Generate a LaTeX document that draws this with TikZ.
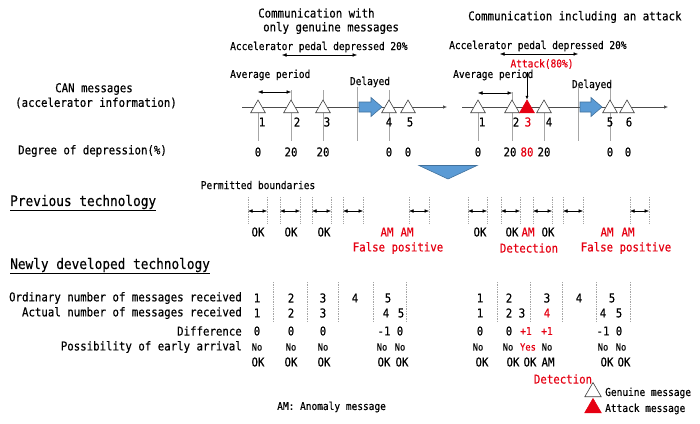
\documentclass[tikz,border=0pt]{standalone}
\usepackage{fontspec}
\setmainfont[FakeStretch=0.88,FakeBold=0.35]{DejaVu Sans Mono}
\usetikzlibrary{shapes.geometric,arrows.meta}
\definecolor{atk}{HTML}{E60012}
\definecolor{blu}{HTML}{5B9BD5}
\definecolor{bluD}{HTML}{41719C}
\definecolor{tick}{HTML}{A6A6A6}
\tikzset{
  tx/.style={inner sep=0pt, font=\fontsize{12.2}{13}\selectfont},
  sm/.style={inner sep=0pt, font=\fontsize{10.8}{12}\selectfont},
  nn/.style={inner sep=0pt, font=\fontsize{10}{11}\selectfont},
  ttl/.style={inner sep=0pt, anchor=west, font=\fontsize{14.5}{16}\selectfont},
  rd/.style={text=atk},
  gen/.style={regular polygon, regular polygon sides=3, minimum size=17pt, inner sep=0pt, draw=black!75, fill=white, line width=0.6pt},
  att/.style={gen, fill=atk, draw=atk},
  tk/.style={draw=tick, line width=0.8pt},
  dt/.style={draw=tick, densely dotted, line width=0.7pt},
  dar/.style={{Latex[length=4.5pt,width=3.6pt]}-{Latex[length=4.5pt,width=3.6pt]}, line width=0.5pt},
  axis/.style={-{Latex[length=4pt,width=3.4pt]}, draw=black!70, line width=0.6pt},
  blk/.style={fill=blu, draw=bluD, line width=0.6pt},
}
\begin{document}
\begin{tikzpicture}[x=1pt,y=-1pt]
\useasboundingbox (0,0) rectangle (700,423);
\fill[white] (0,0) rectangle (700,423);

% ---------- headers ----------
\node[tx, anchor=west] (h1a) at (258,13) {Communication with};
\node[tx, anchor=west] (h1b) at (263,28) {only genuine messages};
\node[sm, anchor=west] (acc1) at (230,47) {Accelerator pedal depressed 20\%};
\coordinate (a1l) at (282,55); \coordinate (a1r) at (357,55);
\draw[dar] (a1l) -- (a1r);
\node[tx, anchor=west] (h2) at (468,17) {Communication including an attack};
\node[sm, anchor=west] (acc2) at (449,46) {Accelerator pedal depressed 20\%};
\coordinate (a2l) at (500,54); \coordinate (a2r) at (578,54);
\draw[dar] (a2l) -- (a2r);
\node[sm, rd] (atxt) at (542,64) {Attack(80\%)};

\node[tx] (can1) at (94,89) {CAN messages};
\node[tx] (can2) at (96,103) {(accelerator information)};
\node[tx, anchor=west] (deg) at (18,151) {Degree of depression(\%)};

% ---------- left timeline ----------
\coordinate (L0) at (242,107); \coordinate (L1) at (447,107);
\draw[tk] (258,113) -- (258,141);
\draw[tk] (291,90) -- (291,141);
\draw[tk] (323,90) -- (323,141);
\draw[tk] (357,87) -- (357,141);
\draw[tk] (389,90) -- (389,141);
\draw[axis] (L0) -- (L1);
\node[sm, anchor=west] (avgL) at (230,75) {Average period};
\draw[dar] (258,92) -- (291,92);
\node[sm] (delL) at (370,82) {Delayed};
\draw[blk] (359,102) -- (371,102) -- (371,97.5) -- (382,107) -- (371,116.5) -- (371,112) -- (359,112) -- cycle;
\node[gen] (l1) at (258,108.5) {};
\node[gen] (l2) at (291,108.5) {};
\node[gen] (l3) at (323,108.5) {};
\node[gen] (l4) at (389,108.5) {};
\node[gen] (l5) at (408,108.5) {};
\node[tx] (ln1) at (262,122) {1};
\node[tx] (ln2) at (297,122) {2};
\node[tx] (ln3) at (327,122) {3};
\node[tx] (ln4) at (389,122) {4};
\node[tx] (ln5) at (410,122) {5};
\node[tx] (ld1) at (258,152) {0};
\node[tx] (ld2) at (291,152) {20};
\node[tx] (ld3) at (323,152) {20};
\node[tx] (ld4) at (389,152) {0};
\node[tx] (ld5) at (408,152) {0};

% ---------- right timeline ----------
\coordinate (R0) at (462,107); \coordinate (R1) at (668,107);
\draw[tk] (478,113) -- (478,141);
\draw[tk] (512,92) -- (512,141);
\draw[tk] (544,113) -- (544,141);
\draw[tk] (578,87) -- (578,141);
\draw[tk] (610,88) -- (610,141);
\draw[axis] (R0) -- (R1);
\node[sm, anchor=west] (avgR) at (453,75) {Average period};
\draw[dar] (478,93) -- (512,93);
\node[sm] (delR) at (592,85) {Delayed};
\draw[blk] (580,102) -- (591,102) -- (591,97.5) -- (602,107) -- (591,116.5) -- (591,112) -- (580,112) -- cycle;
\node[gen] (r1) at (478,108.5) {};
\node[gen] (r2) at (512,108.5) {};
\node[att] (r3) at (527,108.5) {};
\node[gen] (r4) at (544,108.5) {};
\node[gen] (r5) at (610,108.5) {};
\node[gen] (r6) at (627,108.5) {};
\draw[-{Latex[length=3.5pt,width=3pt]}, line width=0.5pt] (atxt.south -| r3.north) ++(0,3) -- (r3.north);
\node[tx] (rn1) at (482,122) {1};
\node[tx] (rn2) at (516,122) {2};
\node[tx, rd] (rn3) at (528,122) {3};
\node[tx] (rn4) at (549,122) {4};
\node[tx] (rn5) at (610,122) {5};
\node[tx] (rn6) at (629,122) {6};
\node[tx] (rd1) at (478,152) {0};
\node[tx] (rd2) at (510,152) {20};
\node[tx, rd] (rd3) at (527,152) {80};
\node[tx] (rd4) at (544,152) {20};
\node[tx] (rd5) at (610,152) {0};
\node[tx] (rd6) at (628,152) {0};

% ---------- wedge ----------
\draw[blk] (419,165.5) -- (477,165.5) -- (448,179) -- cycle;

% ---------- previous technology ----------
\node[ttl] (prev) at (10,203) {\underline{Previous technology}};
\node[sm] (perm) at (258,185) {Permitted boundaries};
\foreach \a/\b in {248/267,280/300,312/331,343/363,409/429,468/487,501/520,533/552,563/583,630/649}{
  \draw[dt] (\a,197) -- (\a,223);
  \draw[dt] (\b,197) -- (\b,223);
  \draw[dar] (\a,211) -- (\b,211);
}
\node[tx] (p1) at (258,232) {OK};
\node[tx] (p2) at (291,232) {OK};
\node[tx] (p3) at (324,232) {OK};
\node[tx, rd] (p4) at (387,232) {AM};
\node[tx, rd] (p5) at (407,232) {AM};
\node[tx, rd] (fp1) at (398,248) {False positive};
\node[tx] (q1) at (480,232) {OK};
\node[tx] (q2) at (512,232) {OK};
\node[tx, rd] (q3) at (528,232) {AM};
\node[tx] (q4) at (548,232) {OK};
\node[tx, rd] (q5) at (607,232) {AM};
\node[tx, rd] (q6) at (628,232) {AM};
\node[tx, rd] (det1) at (529,248) {Detection};
\node[tx, rd] (fp2) at (626,248) {False positive};

% ---------- newly developed technology ----------
\node[ttl] (newt) at (10,266) {\underline{Newly developed technology}};
\foreach \x in {273,307,338,373,406,497,530,562,596,630}{
  \draw[dt] (\x,282) -- (\x,322);
}
\node[tx, anchor=east] (row1) at (242,298) {Ordinary number of messages received};
\node[tx, anchor=east] (row2) at (242,313) {Actual number of messages received};
\node[tx, anchor=east] (row3) at (242,331) {Difference};
\node[tx, anchor=east] (row4) at (242,347) {Possibility of early arrival};

% left columns
\node[tx] (o1) at (257,298) {1};
\node[tx] (o2) at (291,298) {2};
\node[tx] (o3) at (323,298) {3};
\node[tx] (o4) at (355,298) {4};
\node[tx] (o5) at (388,298) {5};
\node[tx] (c1) at (257,313) {1};
\node[tx] (c2) at (291,313) {2};
\node[tx] (c3) at (323,313) {3};
\node[tx] (c4) at (386,313) {4};
\node[tx] (c5) at (401,313) {5};
\node[tx] (d1) at (257,331) {0};
\node[tx] (d2) at (291,331) {0};
\node[tx] (d3) at (323,331) {0};
\node[tx] (d4) at (384,331) {-1};
\node[tx] (d5) at (400,331) {0};
\node[nn] (e1) at (257,347) {No};
\node[nn] (e2) at (291,347) {No};
\node[nn] (e3) at (323,347) {No};
\node[nn] (e4) at (382,347) {No};
\node[nn] (e5) at (400,347) {No};
\node[tx] (k1) at (258,362) {OK};
\node[tx] (k2) at (291,362) {OK};
\node[tx] (k3) at (324,362) {OK};
\node[tx] (k4) at (384,362) {OK};
\node[tx] (k5) at (402,362) {OK};

% right columns
\node[tx] (O1) at (480,298) {1};
\node[tx] (O2) at (509,298) {2};
\node[tx] (O3) at (547,298) {3};
\node[tx] (O4) at (579,298) {4};
\node[tx] (O5) at (612,298) {5};
\node[tx] (C1) at (480,313) {1};
\node[tx] (C2) at (509,313) {2};
\node[tx] (C3) at (522,313) {3};
\node[tx, rd] (C4) at (547,313) {4};
\node[tx] (C5) at (603,313) {4};
\node[tx] (C6) at (619,313) {5};
\node[tx] (D1) at (480,331) {0};
\node[tx] (D2) at (509,331) {0};
\node[sm, rd] (D3) at (526,331) {+1};
\node[sm, rd] (D4) at (547,331) {+1};
\node[tx] (D5) at (603,331) {-1};
\node[tx] (D6) at (619,331) {0};
\node[nn] (E1) at (478,347) {No};
\node[nn] (E2) at (508,347) {No};
\node[nn, rd] (E3) at (528,347) {Yes};
\node[nn] (E4) at (547,347) {No};
\node[nn] (E5) at (603,347) {No};
\node[nn] (E6) at (621,347) {No};
\node[tx] (K1) at (482,362) {OK};
\node[tx] (K2) at (513,362) {OK};
\node[tx] (K3) at (530,362) {OK};
\node[tx] (K4) at (548,362) {AM};
\node[tx] (K5) at (607,362) {OK};
\node[tx] (K6) at (624,362) {OK};
\node[tx, rd] (det2) at (563,379) {Detection};

% ---------- legend ----------
\node[sm, anchor=west] (amn) at (277,407) {AM: Anomaly message};
\node[gen, minimum size=19pt] (lg1) at (593,392) {};
\node[sm, anchor=west] (lg1t) at (605,393) {Genuine message};
\node[att, minimum size=19pt] (lg2) at (593,408) {};
\node[sm, anchor=west] (lg2t) at (605,409) {Attack message};
\end{tikzpicture}
\end{document}
